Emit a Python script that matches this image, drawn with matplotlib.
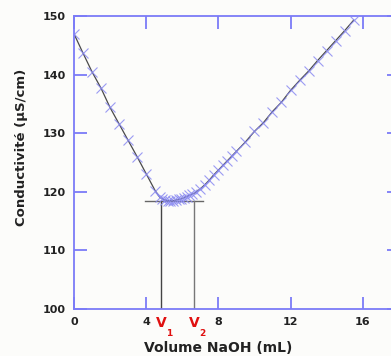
import matplotlib
matplotlib.use("Agg")
import matplotlib.pyplot as plt

# conductometric titration data
volume = [0.0, 0.5, 1.0, 1.5, 2.0, 2.5, 3.0, 3.5, 4.0, 4.5,
          4.75, 4.9, 5.05, 5.2, 5.35, 5.5, 5.65, 5.8, 5.95, 6.1, 6.25, 6.4, 6.55,
          6.75, 7.0, 7.25, 7.5, 7.75, 8.0, 8.25, 8.5, 8.75, 9.0,
          9.5, 10.0, 10.5, 11.0, 11.5, 12.0, 12.5, 13.0, 13.5, 14.0, 14.5, 15.0, 15.5]
conductivity = [147.0, 143.7, 140.5, 137.7, 134.4, 131.6, 128.8, 126.0, 123.1, 120.2,
                119.1, 118.8, 118.6, 118.5, 118.5, 118.5, 118.6, 118.7, 118.8, 119.0, 119.2, 119.4, 119.6,
                119.9, 120.5, 121.2, 122.0, 122.9, 123.7, 124.5, 125.3, 126.1, 126.9,
                128.5, 130.3, 131.8, 133.7, 135.3, 137.3, 139.0, 140.6, 142.4, 144.1, 145.8, 147.5, 149.3]

v1 = 4.85
v2 = 6.65
c_min = 118.4
hline_range = [3.95, 7.15]

xticks = [0, 4, 8, 12, 16]
yticks = [100, 110, 120, 130, 140, 150]

blue = "#7b7bf7"
red = "#e01010"
fig = plt.figure(figsize=(3.91, 3.56), dpi=100, facecolor="#fcfcfa")
ax = fig.add_axes([0.189, 0.132, 0.831, 0.823])
ax.set_facecolor("#fcfcfa")

ax.plot(volume, conductivity, color="#4a4a4a", lw=0.9, zorder=2)
ax.plot(volume, conductivity, ls="none", marker="x", ms=7, mew=0.8,
        color="#8a8af2", alpha=0.85, zorder=3)

# construction lines for equivalence volumes
ax.plot(hline_range, [c_min, c_min], color="#666666", lw=1.0, zorder=1)
ax.plot([v1, v1], [100, c_min], color="#444444", lw=1.0, zorder=1)
ax.plot([v2, v2], [100, c_min], color="#777777", lw=1.0, zorder=1)

ax.set_xlim(0, 18)
ax.set_ylim(100, 150)
ax.set_xticks(xticks)
ax.set_yticks(yticks)
ax.tick_params(direction="in", length=9, width=1.3, color=blue,
               top=True, right=True, labelsize=8, labelcolor="#222222", pad=6)
for lab in ax.get_xticklabels() + ax.get_yticklabels():
    lab.set_fontweight("bold")
for s in ax.spines.values():
    s.set_color(blue)
    s.set_linewidth(1.3)

for v, sub in [(v1, "1"), (v2, "2")]:
    ax.annotate("V", xy=(v, 0), xycoords=("data", "axes fraction"),
                xytext=(0, -14), textcoords="offset pixels",
                ha="center", va="center", color=red, fontsize=10, fontweight="bold")
    ax.annotate(sub, xy=(v, 0), xycoords=("data", "axes fraction"),
                xytext=(8, -24), textcoords="offset pixels",
                ha="center", va="center", color=red, fontsize=6.5, fontweight="bold")

ax.set_xlabel("Volume NaOH (mL)", fontsize=10, fontweight="bold", color="#222222",
              va="center")
ax.xaxis.set_label_coords(0.443, -0.133)
ax.set_ylabel("Conductivité (µS/cm)", fontsize=9.5, fontweight="bold", color="#222222",
              va="center")
ax.yaxis.set_label_coords(-0.16, 0.553)

fig.savefig("out.png", dpi=100, facecolor=fig.get_facecolor())
